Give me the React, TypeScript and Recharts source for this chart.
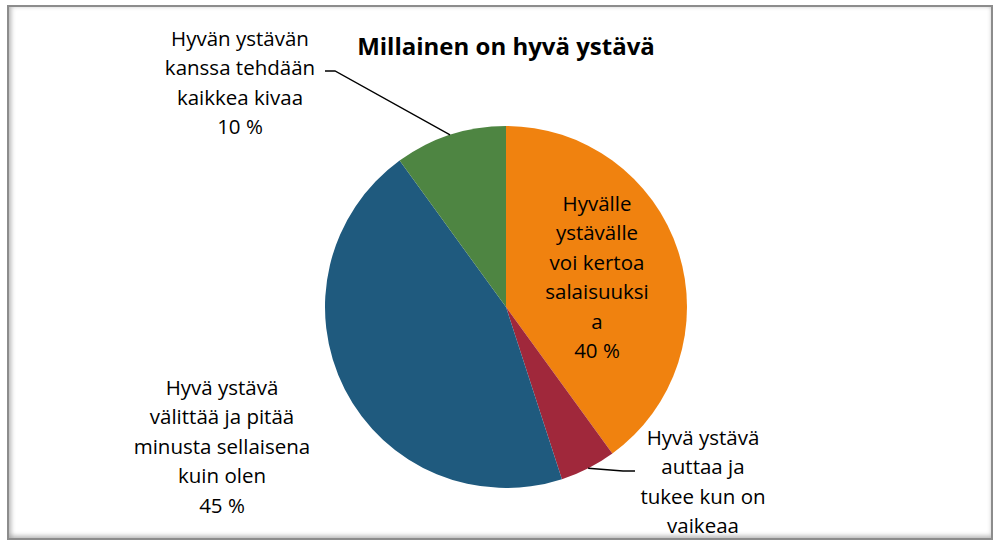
import { Cell, Pie, PieChart } from "recharts";

const categories = [
  "Hyvälle\nystävälle\nvoi kertoa\nsalaisuuksi\na",
  "Hyvä ystävä\nauttaa ja\ntukee kun on\nvaikeaa",
  "Hyvä ystävä\nvälittää ja pitää\nminusta sellaisena\nkuin olen",
  "Hyvän ystävän\nkanssa tehdään\nkaikkea kivaa",
];
const shares = [40, 5, 45, 10];
const colors = ["#f0820f", "#a0283b", "#1f5a7e", "#4e8542"];
// the red slice's percentage falls below the chart frame in the original
const showPercent = [true, false, true, true];

// label placement relative to the pie centre (Excel labels were dragged by hand)
const labelOffsets = [
  { dx: 91, dy: -104 },
  { dx: 197, dy: 130 },
  { dx: -284, dy: 80 },
  { dx: -266, dy: -269 },
];
// leader lines: [elbow, end] relative to the centre, null = no line
const leaders: (number[][] | null)[] = [
  null,
  [
    [117, 164],
    [129, 164],
  ],
  null,
  [
    [-171, -236],
    [-181, -236],
  ],
];

const data = categories.map((name, i) => ({ name, value: shares[i] }));

const FONT = "'Open Sans', sans-serif";
const LINE_H = 29.4;
const RADIAN = Math.PI / 180;

function renderLabel(props: any) {
  const { cx, cy, midAngle, outerRadius, index } = props;
  const off = labelOffsets[index];
  const lines = categories[index].split("\n");
  if (showPercent[index]) lines.push(`${shares[index]} %`);
  const lead = leaders[index];
  let path: string | null = null;
  if (lead) {
    const sx = cx + outerRadius * Math.cos(-midAngle * RADIAN);
    const sy = cy + outerRadius * Math.sin(-midAngle * RADIAN);
    path = `M${sx},${sy}` + lead.map(([x, y]) => ` L${cx + x},${cy + y}`).join("");
  }
  return (
    <g key={`lbl-${index}`}>
      {path && <path d={path} stroke="#000" strokeWidth={1.3} fill="none" />}
      {lines.map((t, j) => (
        <text
          key={j}
          x={cx + off.dx}
          y={cy + off.dy + j * LINE_H}
          textAnchor="middle"
          dominantBaseline="central"
          fill="#000"
          fontSize={20.5}
          fontFamily={FONT}
        >
          {t}
        </text>
      ))}
    </g>
  );
}

export default function App() {
  return (
    <div
      style={{
        position: "absolute",
        left: 0,
        top: 0,
        width: 993,
        height: 540,
        background: "#fff",
        overflow: "hidden",
      }}
    >
      <PieChart width={993} height={540} margin={{ top: 0, right: 0, bottom: 0, left: 0 }}>
        <Pie
          data={data}
          dataKey="value"
          nameKey="name"
          cx={506}
          cy={307}
          outerRadius={181}
          startAngle={90}
          endAngle={-270}
          stroke="none"
          label={renderLabel}
          labelLine={false}
          isAnimationActive={false}
        >
          {data.map((d, i) => (
            <Cell key={d.name} fill={colors[i]} />
          ))}
        </Pie>
      </PieChart>
      <div
        style={{
          position: "absolute",
          left: 0,
          top: 30,
          width: 1012,
          textAlign: "center",
          fontFamily: FONT,
          fontWeight: 700,
          fontSize: 24,
          lineHeight: "32px",
          color: "#000",
        }}
      >
        Millainen on hyvä ystävä
      </div>
      <div
        style={{
          position: "absolute",
          left: 7,
          top: 5,
          width: 982,
          height: 531,
          border: "2px solid #8c8c8c",
          boxShadow: "inset 3px 0 4px rgba(0,0,0,0.18), inset 0 -3px 4px rgba(0,0,0,0.18)",
          pointerEvents: "none",
        }}
      />
    </div>
  );
}
